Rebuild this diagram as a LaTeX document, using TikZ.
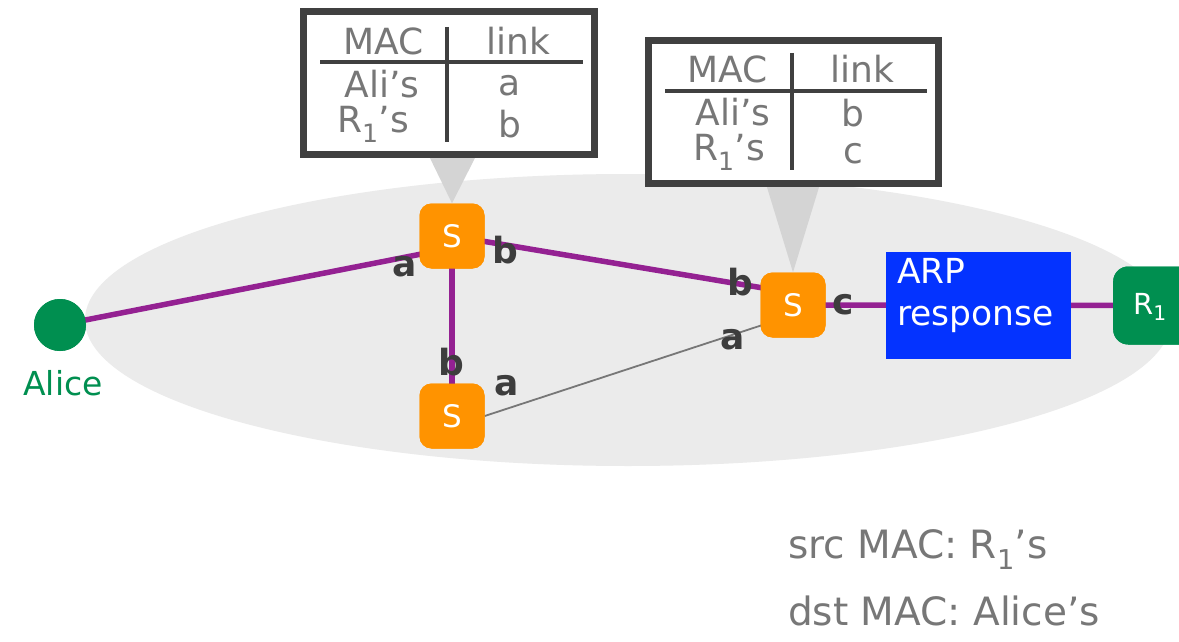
\documentclass[tikz,border=0pt]{standalone}
\usepackage{fontspec}
\setmainfont{DejaVu Sans}
\usetikzlibrary{calc}
\definecolor{ellgray}{HTML}{EBEBEB}
\definecolor{sworange}{HTML}{FF9300}
\definecolor{rgreen}{HTML}{008F50}
\definecolor{arpblue}{HTML}{0433FF}
\definecolor{linkpurple}{HTML}{942192}
\definecolor{txtgray}{HTML}{777777}
\definecolor{lblgray}{HTML}{3D3D3D}
\definecolor{boxgray}{HTML}{404040}
\definecolor{ptrgray}{HTML}{D4D4D4}
\tikzset{
  fs/.style={font=\fontsize{#1}{#1}\selectfont},
  switchbox/.style={rounded corners=12pt, fill=sworange, minimum width=65pt, minimum height=65pt, inner sep=0pt, text=white, fs=31},
  alicedot/.style={circle, fill=rgreen, minimum size=52pt, inner sep=0pt},
  rbox/.style={rounded corners=15pt, fill=rgreen, minimum width=110pt, minimum height=78pt, anchor=west, inner sep=0pt},
  plink/.style={draw=linkpurple, line width=5.5pt},
  glink/.style={draw=txtgray, line width=1.8pt},
  portlbl/.style={text=lblgray, font=\bfseries\fontsize{36}{36}\selectfont, inner sep=0pt},
  tabletxt/.style={text=txtgray, fs=36, inner sep=0pt},
  tablebox/.style={draw=boxgray, line width=7pt, fill=white},
  tabline/.style={draw=boxgray, line width=3.5pt},
  pointer/.style={fill=ptrgray},
  bottomtxt/.style={text=txtgray, fs=39, inner sep=0pt, anchor=base west}
}
\begin{document}
\begin{tikzpicture}[x=1pt,y=-1pt]
\useasboundingbox (0,0) rectangle (1179,642);
\fill[white] (0,0) rectangle (1179,642);
\fill[ellgray] (628,320) ellipse [x radius=543, y radius=146];

% nodes (positions)
\node[alicedot] (alice) at (60,325) {};
\node[text=rgreen, fs=33, inner sep=0pt] (alicelbl) at (63,383) {Alice};
\node[switchbox] (s1) at (452,236) {S};
\node[switchbox] (s2) at (452,416) {S};
\node[switchbox] (s3) at (793,305) {S};
\node[rbox] (r1) at (1113,305.5) {};

% links
\draw[plink] (alice.center) -- ([yshift=-12pt]s1.center);
\draw[plink] (s1.center) -- (s2.center);
\draw[plink] (s1.center) -- ([yshift=12pt]s3.center);
\draw[glink] (s2.east) -- ([yshift=-10pt]s3.center);
\draw[plink] (s3.center) -- (r1.center);

% redraw nodes on top of links
\node[alicedot] at (alice) {};
\node[switchbox] at (s1) {S};
\node[switchbox] at (s2) {S};
\node[switchbox] at (s3) {S};
\node[fill=arpblue, minimum width=185pt, minimum height=107pt, inner sep=0pt] (arp) at (978.5,305.5) {};
\node[text=white, align=left, anchor=north west, inner sep=0pt, font=\fontsize{34.5}{42}\selectfont] (arplbl) at (897,258) {ARP\\response};
\node[rbox] at (1113,305.5) {};
\node[text=white, fs=29, inner sep=0pt] (r1lbl) at (1150,307) {R\textsubscript{1}};

% port labels
\node[portlbl] (p1) at (405,267) {a};
\node[portlbl] (p2) at (505,250) {b};
\node[portlbl] (p3) at (451,362) {b};
\node[portlbl] (p4) at (507,386) {a};
\node[portlbl] (p5) at (740,282) {b};
\node[portlbl] (p6) at (733,340) {a};
\node[portlbl] (p7) at (843,305) {c};

% callout 1
\coordinate (c1a) at (428,154);
\coordinate (c1b) at (477,154);
\fill[pointer] (c1a) -- (c1b) -- (s1.north) -- cycle;
\draw[tablebox] (303.5,11.5) rectangle (594.5,154.5);
\draw[tabline] (447,27) -- (447,142);
\draw[tabline] (320,62) -- (583,62);
\node[tabletxt] (t1mac) at (384,41) {MAC};
\node[tabletxt] (t1link) at (518,41) {link};
\node[tabletxt] (t1r1) at (382,84) {Ali’s};
\node[tabletxt] (t1r1v) at (510,86) {a};
\node[tabletxt] (t1r2) at (373,124) {R\textsubscript{1}’s};
\node[tabletxt] (t1r2v) at (510,124) {b};

% callout 2
\coordinate (c2a) at (766,184);
\coordinate (c2b) at (820,184);
\fill[pointer] (c2a) -- (c2b) -- (s3.north) -- cycle;
\draw[tablebox] (648.5,40.5) rectangle (938.5,183.5);
\draw[tabline] (792,53) -- (792,170);
\draw[tabline] (665,91) -- (927,91);
\node[tabletxt] (t2mac) at (728,69) {MAC};
\node[tabletxt] (t2link) at (862,69) {link};
\node[tabletxt] (t2r1) at (733,112) {Ali’s};
\node[tabletxt] (t2r1v) at (853,113) {b};
\node[tabletxt] (t2r2) at (729,152) {R\textsubscript{1}’s};
\node[tabletxt] (t2r2v) at (853,154) {c};

% bottom text
\node[bottomtxt] (src) at (788,558) {src MAC: R\textsubscript{1}’s};
\node[bottomtxt] (dst) at (788,625) {dst MAC: Alice’s};
\end{tikzpicture}
\end{document}
